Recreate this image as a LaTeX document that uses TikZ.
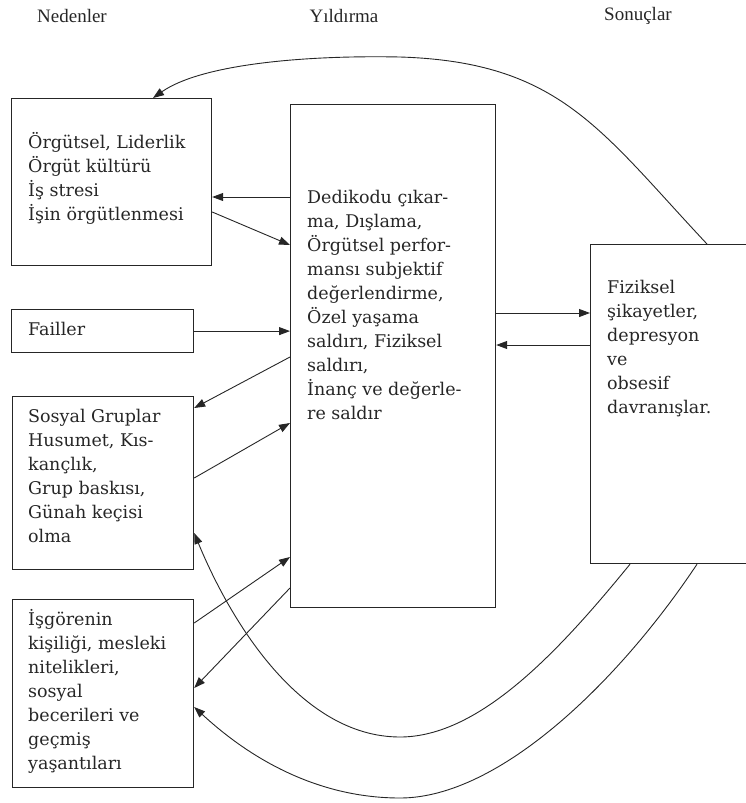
\documentclass[tikz,border=0pt]{standalone}
\usepackage{fontspec}
\newfontfamily\boxfont{DejaVu Serif}
\newfontfamily\headfont{Liberation Serif}
\usetikzlibrary{arrows.meta, positioning}

\begin{document}
\begin{tikzpicture}[x=1pt, y=-1pt, >={Triangle[length=11pt,width=8pt]},
		kutu/.style={draw=black!85, line width=1.2pt, inner sep=0pt, anchor=north west},
		yazi/.style={font=\boxfont\fontsize{17.5}{24}\selectfont, align=left, anchor=north west, inner sep=0pt, text=black!85},
		baslik/.style={font=\headfont\fontsize{19}{22}\selectfont, text=black!85},
		ok/.style={->, draw=black!85, line width=0.9pt}]
			\useasboundingbox (0,0) rectangle (746,803);
			\node[baslik] (neden) at (72,16) {Nedenler};
			\node[baslik] (yildirma) at (344,16) {Yıldırma};
			\node[baslik] (sonuc) at (638,16) {Sonuçlar};
			\node[kutu, minimum width=200pt, minimum height=167pt] (org) at (11,98) {};
			\node[kutu, minimum width=182pt, minimum height=43pt] (fail) at (11,309) {};
			\node[kutu, minimum width=181pt, minimum height=173pt] (sos) at (12,396) {};
			\node[kutu, minimum width=181pt, minimum height=188pt] (isg) at (12,599) {};
			\node[kutu, minimum width=205pt, minimum height=503pt] (yil) at (290,104) {};
			\node[kutu, minimum width=162pt, minimum height=319pt] (son) at (590,244) {};
			\node[yazi] (orgtxt) at (28,131) {\strut Örgütsel, Liderlik\\Örgüt kültürü\\İş stresi\\İşin örgütlenmesi};
			\node[yazi] (failtxt) at (28,318) {\strut Failler};
			\node[yazi] (sostxt) at (28,405) {\strut Sosyal Gruplar\\Husumet, Kıs-\\kançlık,\\Grup baskısı,\\Günah keçisi\\olma};
			\node[yazi] (isgtxt) at (28,608) {\strut İşgörenin\\kişiliği, mesleki\\nitelikleri,\\sosyal\\becerileri ve\\geçmiş\\yaşantıları};
			\node[yazi] (yiltxt) at (307,186) {\strut Dedikodu çıkar-\\ma, Dışlama,\\Örgütsel perfor-\\mansı subjektif\\değerlendirme,\\Özel yaşama\\saldırı, Fiziksel\\saldırı,\\İnanç ve değerle-\\re saldır};
			\node[yazi] (sontxt) at (607,276) {\strut Fiziksel\\şikayetler,\\depresyon\\ve\\obsesif\\davranışlar.};
			\draw[ok] (yil.west |- 0,197) -- (org.east |- 0,197);
			\draw[ok] (org.east |- 0,212) -- (yil.west |- 0,245);
			\draw[ok] (fail.east) -- (yil.west |- fail.east);
			\draw[ok] (yil.west |- 0,357) -- (sos.east |- 0,408);
			\draw[ok] (sos.east |- 0,478) -- (yil.west |- 0,423);
			\draw[ok] (isg.east |- 0,623) -- (yil.west |- 0,557);
			\draw[ok] (yil.west |- 0,588) -- (isg.east |- 0,688);
			\draw[ok] (yil.east |- 0,313) -- (son.west |- 0,313);
			\draw[ok] (son.west |- 0,345) -- (yil.east |- 0,345);
			\draw[ok] (son.north -| 707,0) .. controls (600,130) and (560,62) .. (400,57)
				.. controls (300,55) and (200,65) .. (org.north -| 153,0);
			\draw[ok] (son.south -| 630,0) .. controls (560,650) and (480,737) .. (400,737)
				.. controls (300,737) and (230,620) .. (sos.east |- 0,533);
			\draw[ok] (son.south -| 697,0) .. controls (620,680) and (500,798) .. (400,798)
				.. controls (300,798) and (230,740) .. (isg.east |- 0,707);
		\end{tikzpicture}
\end{document}
